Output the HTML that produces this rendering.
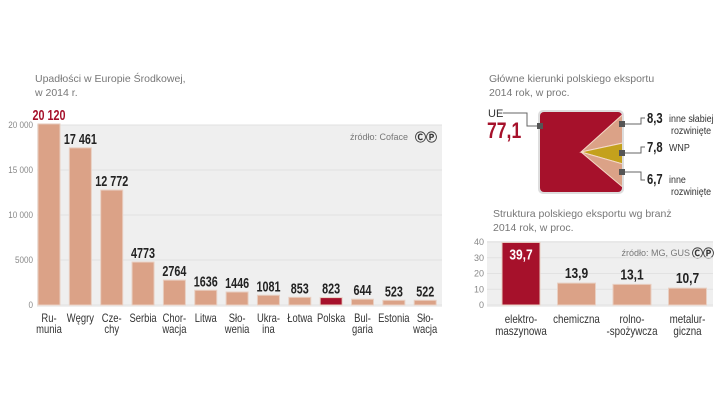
<!DOCTYPE html>
<html><head><meta charset="utf-8"><style>
body{margin:0;background:#fff;}
svg{display:block;font-family:"Liberation Sans",sans-serif;}
.t{fill:#777;font-size:10.5px;}
.ax{fill:#888;font-size:9px;}
.cat{fill:#333;font-size:11.5px;}
.val{font-weight:bold;font-size:15px;fill:#222;}
</style></head><body>
<svg id="s" width="720" height="405" viewBox="0 0 720 405">
<text class="t" x="35" y="82">Upadłości w Europie Środkowej,</text>
<text class="t" x="35" y="96">w 2014 r.</text>
<rect x="37" y="125" width="405" height="182" fill="#efefef"/>
<text x="408" y="140" font-size="9" fill="#777" text-anchor="end">źródło: Coface</text>
<text x="426" y="141" font-size="11" font-weight="bold" fill="#333" text-anchor="middle">ⒸⓅ</text>
<g id="left"></g>
<text class="t" x="489" y="82">Główne kierunki polskiego eksportu</text>
<text class="t" x="489" y="96">2014 rok, w proc.</text>
<g id="pie"></g>
<text class="t" x="493" y="217">Struktura polskiego eksportu wg branż</text>
<text class="t" x="493" y="231">2014 rok, w proc.</text>
<rect x="487" y="241" width="226" height="66" fill="#efefef"/>
<text x="690" y="256" font-size="9" fill="#777" text-anchor="end">źródło: MG, GUS</text>
<text x="703" y="257" font-size="11" font-weight="bold" fill="#333" text-anchor="middle">ⒸⓅ</text>
<g id="right"></g>
</svg>
<script>
const countries=[["Ru-","munia"],["Węgry",""],["Cze-","chy"],["Serbia",""],["Chor-","wacja"],["Litwa",""],["Sło-","wenia"],["Ukra-","ina"],["Łotwa",""],["Polska",""],["Bul-","garia"],["Estonia",""],["Sło-","wacja"]];
const bankrupt=[20120,17461,12772,4773,2764,1636,1446,1081,853,823,644,523,522];
const bankruptLabels=["20 120","17 461","12 772","4773","2764","1636","1446","1081","853","823","644","523","522"];
const leftTicks=[0,5000,10000,15000,20000];
const leftTickLabels=["0","5000","10 000","15 000","20 000"];
const pieLabels=["UE","inne słabiej rozwinięte","WNP","inne rozwinięte"];
const pieValues=[77.1,8.3,7.8,6.7];
const sectors=[["elektro-","maszynowa"],["chemiczna",""],["rolno-","-spożywcza"],["metalur-","giczna"]];
const sectorValues=[39.7,13.9,13.1,10.7];
const rightTicks=[0,10,20,30,40];
const NS="http://www.w3.org/2000/svg";
function mk(p,tag,a,txt){const e=document.createElementNS(NS,tag);for(const k in a)e.setAttribute(k,a[k]);if(txt!==undefined)e.textContent=txt;p.appendChild(e);return e;}
function tx(p,x,y,s,a,sx){const g=mk(p,'g',{transform:`translate(${x},${y}) scale(${sx},1)`});a.x=0;a.y=0;return mk(g,'text',a,s);}
const SALMON="#dba287",RED="#a6112b";
// left
const L=document.getElementById('left');
const ly=v=>305-v/20000*180;
const lx=i=>49+i*31.35;
leftTicks.forEach((t,i)=>{
 const g=mk(L,'line',{x1:37,x2:442,y1:ly(t),y2:ly(t),stroke:'#e2e2e2'});
 
 const e=tx(L,33,ly(t)+3,leftTickLabels[i],{'text-anchor':'end',class:'ax'},0.9);
 
});
bankrupt.forEach((v,i)=>{
 const r=mk(L,'rect',{x:lx(i)-11,y:ly(v),width:22,height:305-ly(v),fill:i===9?RED:SALMON,stroke:'#e8cfc2','stroke-width':1});
 
 const t=tx(L,lx(i),ly(v)-4,bankruptLabels[i],{'text-anchor':'middle',class:'val'},0.72);
 if(i===0)t.style.fill=RED;
 
 countries[i].forEach((s,j)=>{if(!s)return;const c=tx(L,lx(i),322+j*11,s,{'text-anchor':'middle',class:'cat'},0.82);
 });
});
// pie
const P=document.getElementById('pie');
const cp=mk(P,'clipPath',{id:'sq'});mk(cp,'rect',{x:540,y:112,width:82,height:80,rx:4});
const bg=mk(P,'rect',{x:538,y:110,width:86,height:84,rx:5,fill:'#ddd'});

const pg=mk(P,'g',{'clip-path':'url(#sq)'});
const cx=581,cy=152,R=120;
const base=mk(pg,'rect',{x:540,y:112,width:82,height:80,fill:RED});

let a=-42;const cols=[SALMON,"#c4a11c",SALMON];
for(let i=1;i<pieValues.length;i++){
 const a2=a+pieValues[i]*3.6;const r1=a*Math.PI/180,r2=a2*Math.PI/180;
 const s=mk(pg,'path',{d:`M${cx},${cy}L${cx+R*Math.cos(r1)},${cy+R*Math.sin(r1)}L${cx+R*Math.cos(r2)},${cy+R*Math.sin(r2)}Z`,fill:cols[i-1],stroke:'#f4d9c8','stroke-width':1});
 
 a=a2;
}
const ys=[124,153,172];
const txt=[["inne słabiej","rozwinięte"],["WNP",""],["inne","rozwinięte"]];
for(let i=0;i<3;i++){
 const y=ys[i];
 mk(P,'rect',{x:619,y:y-3,width:6,height:6,fill:'#555'});
 const ly2=i===2?y+8:y-6;
 const ln=mk(P,'polyline',{points:`625,${y} 641,${y} 641,${ly2} 645,${ly2}`,fill:'none',stroke:'#666'});
 
 const ty=i===2?y+12:y-1;
 const v=tx(P,647,ty,pieValues[i+1].toFixed(1).replace('.',','),{class:'val'},0.75);
 
 const l1=tx(P,669,ty-1,txt[i][0],{'font-size':'10.5',fill:'#333'},0.85);
 
 if(txt[i][1]){const l2=tx(P,671,ty+11,txt[i][1],{'font-size':'10.5',fill:'#333'},0.85);
 }
}
mk(P,'rect',{x:537,y:123,width:6,height:6,fill:'#555'});
mk(P,'polyline',{points:'537,126 527,126 527,113 503,113',fill:'none',stroke:'#666'});
const ue=mk(P,'text',{x:488,y:117,'font-size':'11',fill:'#333'},pieLabels[0]);

const uv=tx(P,487,138,pieValues[0].toFixed(1).replace('.',','),{'font-size':'22','font-weight':'bold',fill:RED},0.8);

// right
const Rg=document.getElementById('right');
const ry=v=>305-v/40*63;const rx=i=>521+i*55.5;
rightTicks.forEach(t=>{
 mk(Rg,'line',{x1:487,x2:713,y1:ry(t),y2:ry(t),stroke:'#e2e2e2'});
 const e=mk(Rg,'text',{x:484,y:ry(t)+3,'text-anchor':'end',class:'ax'},String(t));
 
});
sectorValues.forEach((v,i)=>{
 const r=mk(Rg,'rect',{x:rx(i)-19,y:ry(v),width:38,height:305-ry(v),fill:i===0?RED:SALMON,stroke:'#e8cfc2'});
 
 const inside=i===0;
 const t=tx(Rg,rx(i),inside?ry(v)+17:ry(v)-5,v.toFixed(1).replace('.',','),{'text-anchor':'middle',class:'val'},0.8);
 if(inside)t.style.fill='#fff';
 
 sectors[i].forEach((s,j)=>{if(!s)return;const c=tx(Rg,rx(i),323+j*12,s,{'text-anchor':'middle',class:'cat'},0.85);
 });
});
</script>
</body></html>
